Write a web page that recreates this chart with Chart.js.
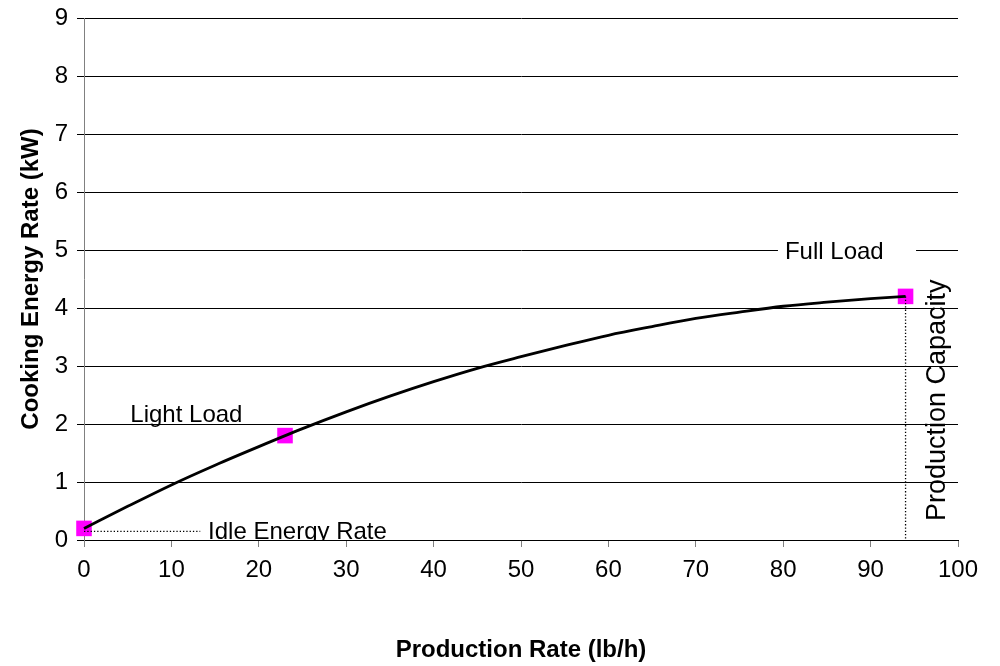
<!DOCTYPE html>
<html><head><meta charset="utf-8">
<script src="https://cdn.jsdelivr.net/npm/chart.js@4/dist/chart.umd.min.js"></script>
<style>html,body{margin:0;padding:0;background:#fff}#wrap{width:1000px;height:666px;position:relative}</style>
</head><body><div id="wrap"><canvas id="c" width="1000" height="666"></canvas></div>
<script>
// ---- data ----
const curveX = [0, 5, 10, 15, 20, 25, 30, 35, 40, 45, 50, 55, 60, 65, 70, 75, 80, 85, 90, 94];
const curveY = [0.20, 0.58, 0.95, 1.29, 1.61, 1.92, 2.21, 2.48, 2.73, 2.96, 3.16, 3.35, 3.53, 3.68, 3.82, 3.93, 4.03, 4.10, 4.16, 4.20];
const pointX = [0, 23, 94];
const pointY = [0.2, 1.8, 4.2];
const idleLineX = [0, 13.3];
const idleLineY = [0.15, 0.15];
const capLineX = [94, 94];
const capLineY = [4.2, 0];
const xTicks = [0, 10, 20, 30, 40, 50, 60, 70, 80, 90, 100];
const yTicks = [0, 1, 2, 3, 4, 5, 6, 7, 8, 9];
const xTitle = 'Production Rate (lb/h)';
const yTitle = 'Cooking Energy Rate (kW)';
const labelFull = 'Full Load';
const labelLight = 'Light Load';
const labelIdle = 'Idle Energy Rate';
const labelCap = 'Production Capacity';

const FONT = "'Liberation Sans', Arial, sans-serif";
const zip = (xs, ys) => xs.map((x, i) => ({x, y: ys[i]}));

const annot = {
  id: 'annot',
  afterDatasetsDraw(chart) {
    const ctx = chart.ctx, xs = chart.scales.x, ys = chart.scales.y, ca = chart.chartArea;
    const px = v => xs.getPixelForValue(v), py = v => ys.getPixelForValue(v);
    ctx.save();
    ctx.fillStyle = '#000';
    ctx.font = '24px ' + FONT;
    ctx.textBaseline = 'alphabetic';
    ctx.textAlign = 'left';
    // Full Load with white box over gridline
    const fx = px(80.2), fy = py(4.84);
    ctx.fillStyle = '#fff';
    ctx.fillRect(px(79.4), fy - 26, px(95.2) - px(79.4), 36);
    ctx.fillStyle = '#000';
    ctx.fillText(labelFull, fx, fy);
    // Light Load
    ctx.fillText(labelLight, px(5.3), py(2.03));
    // Idle Energy Rate, clipped to plot area
    ctx.save();
    ctx.beginPath();
    ctx.rect(ca.left, ca.top, ca.right - ca.left, ca.bottom - ca.top);
    ctx.clip();
    ctx.fillText(labelIdle, px(14.2), py(0.02));
    ctx.restore();
    // Production Capacity rotated
    ctx.save();
    ctx.translate(px(97.7), py(2.41));
    ctx.rotate(-Math.PI / 2);
    ctx.textAlign = 'center';
    ctx.textBaseline = 'middle';
    ctx.font = '27px ' + FONT;
    ctx.fillText(labelCap, 0, 0);
    ctx.restore();
    ctx.restore();
  }
};

new Chart(document.getElementById('c'), {
  type: 'line',
  data: {
    datasets: [
      {data: zip(curveX, curveY), borderColor: '#000', borderWidth: 2.8, pointRadius: 0,
       cubicInterpolationMode: 'monotone', fill: false, order: 0, clip: false},
      {data: zip(pointX, pointY), showLine: false, pointStyle: 'rect', pointRadius: 11,
       pointBackgroundColor: '#ff00ff', pointBorderWidth: 0, pointBorderColor: '#ff00ff', order: 2, clip: false},
      {data: zip(idleLineX, idleLineY), borderColor: '#000', borderWidth: 1.3, borderDash: [1.3, 2],
       pointRadius: 0, fill: false, order: 1},
      {data: zip(capLineX, capLineY), borderColor: '#000', borderWidth: 1.3, borderDash: [1.3, 2],
       pointRadius: 0, fill: false, order: 1}
    ]
  },
  options: {
    responsive: false, animation: false, devicePixelRatio: 1,
    layout: {padding: {left: 0, top: 18, right: 42, bottom: 0}},
    plugins: {legend: {display: false}, tooltip: {enabled: false}},
    scales: {
      x: {
        type: 'linear', min: 0, max: 100,
        afterBuildTicks: s => { s.ticks = xTicks.map(v => ({value: v})); },
        afterFit: s => { s.height = 126; s.paddingLeft = 0; s.paddingRight = 0; },
        grid: {drawOnChartArea: false, drawTicks: true, tickLength: 7, color: '#808080', lineWidth: 1},
        border: {display: true, color: '#000', width: 1},
        ticks: {color: '#000', font: {family: FONT, size: 24}, padding: 9, maxRotation: 0},
        title: {display: true, text: xTitle, color: '#000', font: {family: FONT, size: 24, weight: 'bold'},
                padding: {top: 0, bottom: 1}}
      },
      y: {
        type: 'linear', min: 0, max: 9,
        afterBuildTicks: s => { s.ticks = yTicks.map(v => ({value: v})); },
        afterFit: s => { s.width = 84; s.paddingTop = 0; s.paddingBottom = 0; },
        grid: {drawOnChartArea: true, drawTicks: true, tickLength: 7, color: '#000', lineWidth: 1},
        border: {display: true, color: '#808080', width: 1},
        ticks: {color: '#000', font: {family: FONT, size: 24}, padding: 9},
        title: {display: true, text: yTitle, color: '#000', font: {family: FONT, size: 24, weight: 'bold'},
                padding: {top: 17, bottom: 0}}
      }
    }
  },
  plugins: [annot]
});
</script>
</body></html>
